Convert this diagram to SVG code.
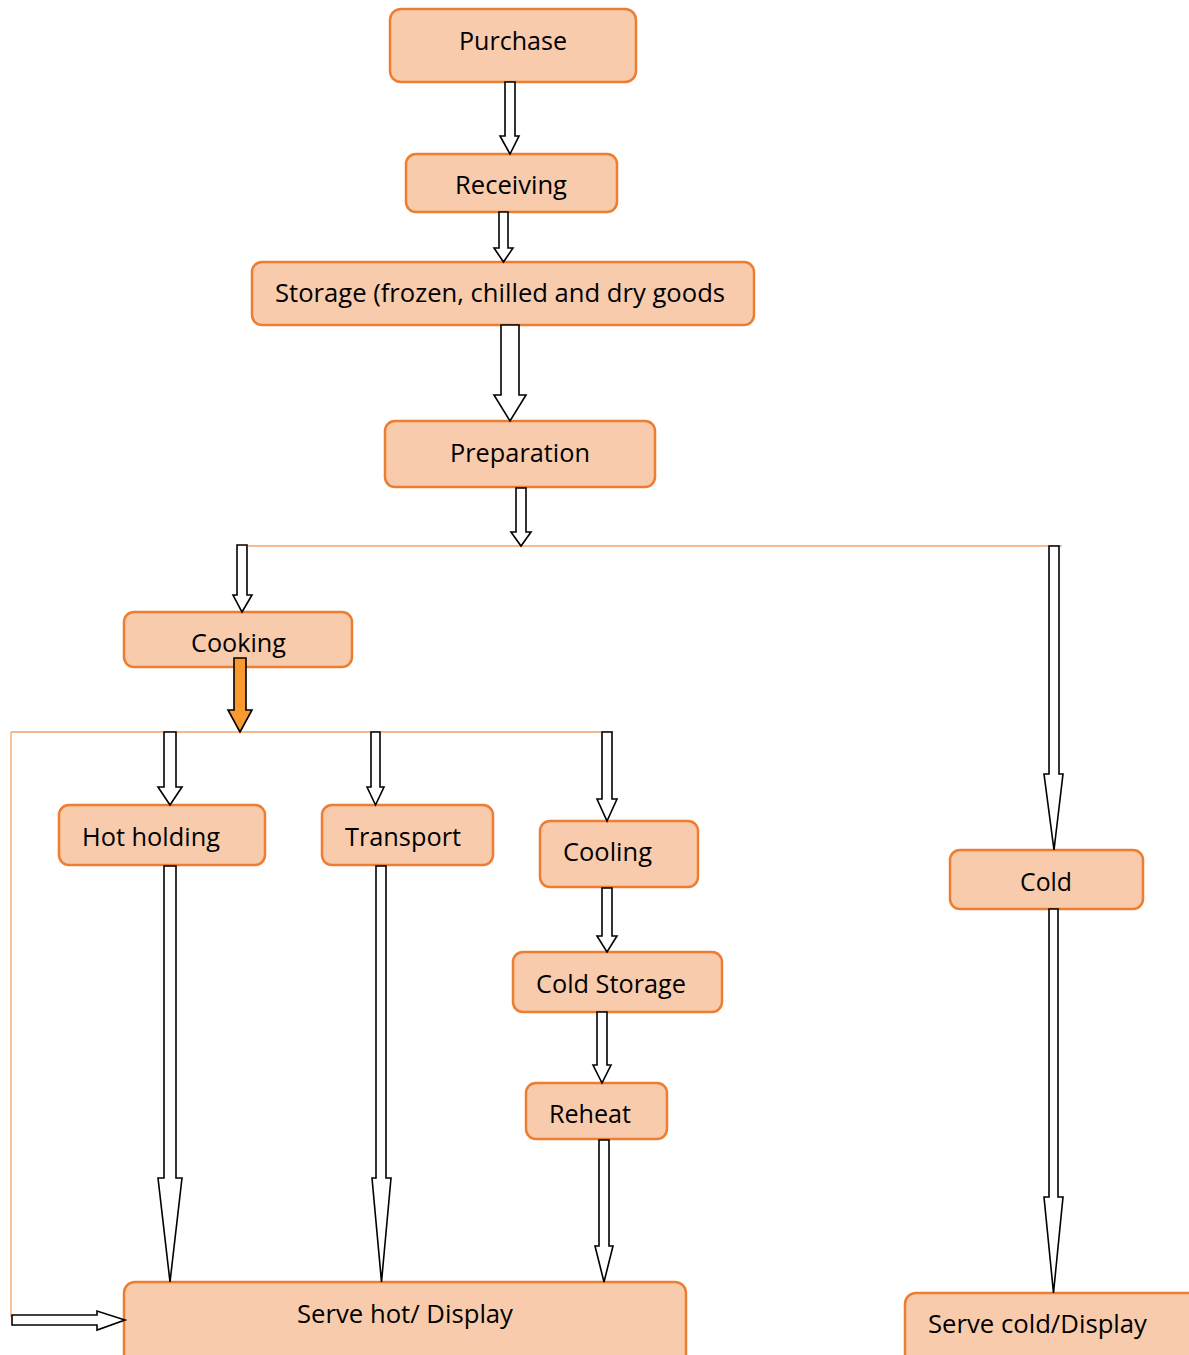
<svg xmlns="http://www.w3.org/2000/svg" width="1189" height="1355" viewBox="0 0 1189 1355">
<style>
.box{fill:#F8CBAD;stroke:#ED7D31;stroke-width:2.5}
.t{font-family:"Open Sans","Liberation Sans",sans-serif;font-size:25px;fill:#000}
.arr{fill:#fff;stroke:#000;stroke-width:1.6;stroke-linejoin:miter}
.arro{fill:#F99A31;stroke:#000;stroke-width:1.6}
.ln{fill:none;stroke:#F4A26A;stroke-width:1.3}
</style>
<rect width="1189" height="1355" fill="#fff"/>
<g id="purchase"><rect class="box" x="390" y="9" width="246" height="73" rx="11"/><text class="t" x="459" y="50" textLength="108" lengthAdjust="spacingAndGlyphs">Purchase</text></g>
<g id="receiving"><rect class="box" x="406" y="154" width="211" height="58" rx="10"/><text class="t" x="455" y="194" textLength="112" lengthAdjust="spacingAndGlyphs">Receiving</text></g>
<g id="storage"><rect class="box" x="252" y="262" width="502" height="63" rx="10"/><text class="t" x="275" y="302" textLength="450" lengthAdjust="spacingAndGlyphs">Storage (frozen, chilled and dry goods</text></g>
<g id="preparation"><rect class="box" x="385" y="421" width="270" height="66" rx="10"/><text class="t" x="450" y="462" textLength="140" lengthAdjust="spacingAndGlyphs">Preparation</text></g>
<g id="cooking"><rect class="box" x="124" y="612" width="228" height="55" rx="10"/><text class="t" x="191" y="652" textLength="95" lengthAdjust="spacingAndGlyphs">Cooking</text></g>
<g id="hotholding"><rect class="box" x="59" y="805" width="206" height="60" rx="10"/><text class="t" x="82" y="846" textLength="138" lengthAdjust="spacingAndGlyphs">Hot holding</text></g>
<g id="transport"><rect class="box" x="322" y="805" width="171" height="60" rx="10"/><text class="t" x="345" y="846" textLength="116" lengthAdjust="spacingAndGlyphs">Transport</text></g>
<g id="cooling"><rect class="box" x="540" y="821" width="158" height="66" rx="10"/><text class="t" x="563" y="861" textLength="89" lengthAdjust="spacingAndGlyphs">Cooling</text></g>
<g id="coldstorage"><rect class="box" x="513" y="952" width="209" height="60" rx="10"/><text class="t" x="536" y="993" textLength="150" lengthAdjust="spacingAndGlyphs">Cold Storage</text></g>
<g id="reheat"><rect class="box" x="526" y="1083" width="141" height="56" rx="10"/><text class="t" x="549" y="1123" textLength="82" lengthAdjust="spacingAndGlyphs">Reheat</text></g>
<g id="servehot"><rect class="box" x="124" y="1282" width="562" height="90" rx="11"/><text class="t" x="297" y="1323" textLength="216" lengthAdjust="spacingAndGlyphs">Serve hot/ Display</text></g>
<g id="cold"><rect class="box" x="950" y="850" width="193" height="59" rx="10"/><text class="t" x="1020" y="891" textLength="52" lengthAdjust="spacingAndGlyphs">Cold</text></g>
<g id="servecold"><rect class="box" x="905" y="1293" width="300" height="80" rx="11"/><text class="t" x="928" y="1333" textLength="219" lengthAdjust="spacingAndGlyphs">Serve cold/Display</text></g>
<g id="connectors">
<path class="ln" d="M248,546 H1062"/>
<path class="ln" d="M11,732 H613 M11,732 V1317"/>
<path class="arr" d="M505,82 H515 V136 H519 L510,154 L500,136 H505 Z"/>
<path class="arr" d="M499,212 H508 V248 H513 L503.5,262 L494,248 H499 Z"/>
<path class="arr" d="M501,325 H519 V395 H526 L510,421 L494,395 H501 Z"/>
<path class="arr" d="M516,488 H526 V532 H531 L521,546 L511,532 H516 Z"/>
<path class="arr" d="M237,545 H247 V595 H252 L242,612 L233,595 H237 Z"/>
<path class="arr" d="M1049,546 H1059 V774 H1063 L1054,850 L1044,774 H1049 Z"/>
<path class="arro" d="M234,658 H246 V710 H252 L240,732 L228,710 H234 Z"/>
<path class="arr" d="M164,732 H176 V787 H182 L170,805 L158,787 H164 Z"/>
<path class="arr" d="M371,732 H380 V787 H384 L375.5,805 L367,787 H371 Z"/>
<path class="arr" d="M602,732 H612 V799 H617 L607,821 L597,799 H602 Z"/>
<path class="arr" d="M164,866 H176 V1178 H182 L170,1282 L158,1178 H164 Z"/>
<path class="arr" d="M376,866 H386 V1178 H391 L381.5,1282 L372,1178 H376 Z"/>
<path class="arr" d="M602,888 H612 V936 H617 L607,952 L597,936 H602 Z"/>
<path class="arr" d="M597,1012 H607 V1065 H611 L602,1083 L593,1065 H597 Z"/>
<path class="arr" d="M599,1140 H609 V1246 H613 L604,1282 L595,1246 H599 Z"/>
<path class="arr" d="M1049,909 H1058 V1197 H1063 L1053.5,1293 L1044,1197 H1049 Z"/>
<path class="arr" d="M12,1315 H97 V1311 L125,1320 L97,1330 V1325 H12 Z"/>
</g>
</svg>
